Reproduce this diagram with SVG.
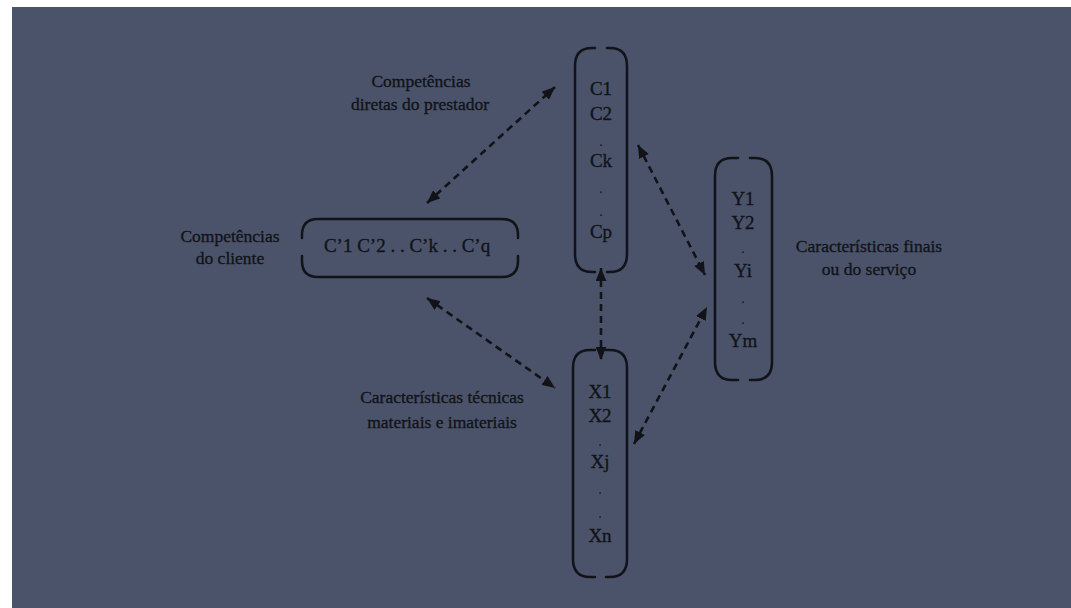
<svg xmlns="http://www.w3.org/2000/svg" width="1071" height="608" viewBox="0 0 1071 608">
<style>
.lbl{font-family:"Liberation Serif","Times New Roman",serif;font-size:17.5px;fill:#111318;stroke:#111318;stroke-width:0.35;text-anchor:middle}
.itm{font-family:"Liberation Serif","Times New Roman",serif;font-size:19px;fill:#111318;stroke:#111318;stroke-width:0.35;text-anchor:middle}
.dot{font-family:"Liberation Serif","Times New Roman",serif;font-size:14px;fill:#111318;text-anchor:middle}
.br{fill:none;stroke:#111318;stroke-width:2.5;stroke-linecap:round}
.con{fill:none;stroke:#111318;stroke-width:2.6;stroke-dasharray:7 5;marker-start:url(#ah);marker-end:url(#ah)}
</style>
<defs>
<marker id="ah" viewBox="0 0 12 10" refX="12" refY="5" markerWidth="13" markerHeight="11" markerUnits="userSpaceOnUse" orient="auto-start-reverse">
<path d="M0,0 L12,5 L0,10 z" fill="#111318"/>
</marker>
</defs>
<rect x="0" y="0" width="1071" height="608" fill="#ffffff"/>
<rect x="12" y="7" width="1059" height="601" fill="#4b536b"/>

<g id="cliente">
<path class="br" d="M302,238 L302,235 Q302,219 318,219 L502,219 Q518,219 518,235 L518,238"/>
<path class="br" d="M302,256 L302,261 Q302,277 318,277 L502,277 Q518,277 518,261 L518,256"/>
<text class="itm" x="407" y="252">C’1 C’2 . . C’k . . C’q</text>
</g>
<g id="lbl-cliente">
<text class="lbl" x="230" y="242">Competências</text>
<text class="lbl" x="230" y="264">do cliente</text>
</g>

<g id="prestador">
<path class="br" d="M595,48 L592,48 Q575,48 575,66 L575,254 Q575,272 592,272 L595,272"/>
<path class="br" d="M607,48 L610,48 Q627,48 627,66 L627,254 Q627,272 610,272 L607,272"/>
<text class="itm" x="601" y="95">C1</text>
<text class="itm" x="601" y="120">C2</text>
<text class="dot" x="601" y="146">.</text>
<text class="itm" x="601" y="167">Ck</text>
<text class="dot" x="601" y="193">.</text>
<text class="dot" x="601" y="216">.</text>
<text class="itm" x="601" y="238">Cp</text>
</g>
<g id="lbl-prestador">
<text class="lbl" x="421" y="87">Competências</text>
<text class="lbl" x="420" y="110">diretas do prestador</text>
</g>

<g id="tecnicas">
<path class="br" d="M595,350 L590,350 Q573,350 573,368 L573,559 Q573,577 590,577 L595,577"/>
<path class="br" d="M606,350 L610,350 Q627,350 627,368 L627,559 Q627,577 610,577 L606,577"/>
<text class="itm" x="600" y="398">X1</text>
<text class="itm" x="600" y="422">X2</text>
<text class="dot" x="600" y="446">.</text>
<text class="itm" x="600" y="468">Xj</text>
<text class="dot" x="600" y="494">.</text>
<text class="dot" x="600" y="518">.</text>
<text class="itm" x="600" y="542">Xn</text>
</g>
<g id="lbl-tecnicas">
<text class="lbl" x="442" y="403">Características técnicas</text>
<text class="lbl" x="442" y="428">materiais e imateriais</text>
</g>

<g id="finais">
<path class="br" d="M738,158 L732,158 Q715,158 715,176 L715,362 Q715,380 732,380 L738,380"/>
<path class="br" d="M750,158 L755,158 Q772,158 772,176 L772,362 Q772,380 755,380 L750,380"/>
<text class="itm" x="743" y="205">Y1</text>
<text class="itm" x="743" y="229">Y2</text>
<text class="dot" x="743" y="253">.</text>
<text class="itm" x="743" y="277">Yi</text>
<text class="dot" x="743" y="303">.</text>
<text class="dot" x="743" y="324">.</text>
<text class="itm" x="743" y="347">Ym</text>
</g>
<g id="lbl-finais">
<text class="lbl" x="869" y="252">Características finais</text>
<text class="lbl" x="869" y="275">ou do serviço</text>
</g>

<g id="connectors">
<line class="con" x1="427" y1="203" x2="555" y2="87"/>
<line class="con" x1="427" y1="298" x2="555" y2="388"/>
<line class="con" x1="601" y1="268" x2="601" y2="360"/>
<line class="con" x1="638" y1="145" x2="705" y2="275"/>
<line class="con" x1="634" y1="444" x2="707" y2="307"/>
</g>
</svg>
